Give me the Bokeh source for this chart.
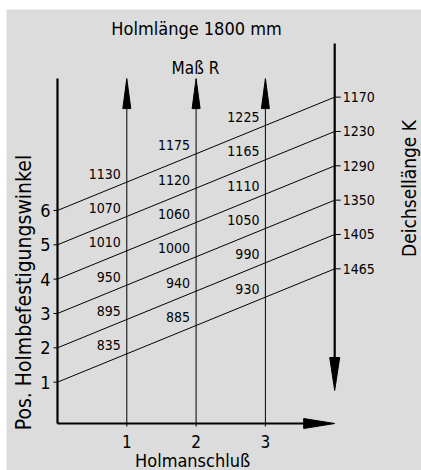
from bokeh.plotting import figure
from bokeh.models import Range1d, ColumnDataSource, Label
from bokeh.core.properties import value
from bokeh.embed import file_html
from bokeh.resources import INLINE
import math

# ---- data ----
positions = [1, 2, 3, 4, 5, 6]                      # Pos. Holmbefestigungswinkel
deichsel_K = [1465, 1405, 1350, 1290, 1230, 1170]   # Deichsellänge K (right scale)
holmanschluss = [1, 2, 3]                           # Holmanschluß
mass_R_1 = [835, 895, 950, 1010, 1070, 1130]        # Maß R at Holmanschluß 1
mass_R_2 = [885, 940, 1000, 1060, 1120, 1175]       # Maß R at Holmanschluß 2
mass_R_3 = [930, 990, 1050, 1110, 1165, 1225]       # Maß R at Holmanschluß 3

# ---- geometry / style ----
W, H = 421, 470
ML, MT = 6, 9               # white border left / top
FW, FH = W - ML, H - MT     # frame size
XS, YS = 69.3, 34.34        # px per unit
X0_PX, Y0_PX = 51, 407      # frame px of origin (from left / top)
RIGHT_X = 4.0               # right scale position
RISE = 3.3                  # rise of each line over the chart
SLOPE = RISE / RIGHT_X
BOTTOM_Y = -0.204
LEFT_TOP = 9.84
RIGHT_TOP = 10.86
FONT = value("'DejaVu Sans Condensed', 'Liberation Sans Narrow', sans-serif")
BG = "#dcdcdc"

p = figure(width=W, height=H, output_backend="svg", toolbar_location=None,
           x_range=Range1d(-X0_PX / XS, (FW - X0_PX) / XS),
           y_range=Range1d(-(FH - Y0_PX) / YS, Y0_PX / YS),
           x_axis_type=None, y_axis_type=None,
           min_border_left=ML, min_border_top=MT, min_border_right=0, min_border_bottom=0)
p.grid.visible = False
p.background_fill_color = BG
p.border_fill_color = "white"
p.outline_line_color = None

px_x = 1.0 / XS
px_y = 1.0 / YS

# slanted lines from left scale to right scale
p.segment(x0=[0] * len(positions), y0=positions,
          x1=[RIGHT_X] * len(positions), y1=[k + RISE for k in positions],
          line_color="black", line_width=1)

# vertical lines (Holmanschluß) with upward arrows
head_len, head_hw = 30 * px_y, 4 * px_x
p.segment(x0=holmanschluss, y0=[BOTTOM_Y] * 3, x1=holmanschluss,
          y1=[LEFT_TOP - head_len] * 3, line_color="black", line_width=1)
p.patches(xs=[[c - head_hw, c, c + head_hw] for c in holmanschluss],
          ys=[[LEFT_TOP - head_len, LEFT_TOP, LEFT_TOP - head_len]] * 3,
          fill_color="black", line_color="black")

# left axis
p.segment(x0=[0], y0=[BOTTOM_Y], x1=[0], y1=[LEFT_TOP], line_color="black", line_width=2.2)
p.segment(x0=[-4 * px_x] * 6, y0=positions, x1=[0] * 6, y1=positions, line_color="black", line_width=1)

# bottom axis with arrow to the right
b_len, b_hw = 31 * px_x, 5 * px_y
p.segment(x0=[0], y0=[BOTTOM_Y], x1=[RIGHT_X - b_len], y1=[BOTTOM_Y], line_color="black", line_width=2.2)
p.patches(xs=[[RIGHT_X - b_len, RIGHT_X, RIGHT_X - b_len]],
          ys=[[BOTTOM_Y - b_hw, BOTTOM_Y, BOTTOM_Y + b_hw]], fill_color="black", line_color="black")
p.segment(x0=holmanschluss, y0=[BOTTOM_Y] * 3, x1=holmanschluss, y1=[BOTTOM_Y - 3 * px_y] * 3,
          line_color="black", line_width=1)

# right axis with arrow downward
r_len, r_hw = 33 * px_y, 5 * px_x
r_tip = 0.757
p.segment(x0=[RIGHT_X], y0=[RIGHT_TOP], x1=[RIGHT_X], y1=[r_tip + r_len], line_color="black", line_width=2.2)
p.patches(xs=[[RIGHT_X - r_hw, RIGHT_X, RIGHT_X + r_hw]],
          ys=[[r_tip + r_len, r_tip, r_tip + r_len]], fill_color="black", line_color="black")
k_y = [k + RISE for k in positions]
p.segment(x0=[RIGHT_X] * 6, y0=k_y, x1=[RIGHT_X + 6 * px_x] * 6, y1=k_y, line_color="black", line_width=1)

# left tick labels
p.text(x=[0] * 6, y=positions, text=[str(k) for k in positions], x_offset=-7,
       text_align="right", text_baseline="middle", text_font=FONT, text_font_size="18px",
       text_color="black")
# right tick labels
p.text(x=[RIGHT_X] * 6, y=k_y, text=[str(v) for v in deichsel_K], x_offset=8,
       text_align="left", text_baseline="middle", text_font=FONT, text_font_size="14px",
       text_color="black")
# bottom tick labels
p.text(x=holmanschluss, y=[BOTTOM_Y] * 3, text=[str(c) for c in holmanschluss], y_offset=18,
       text_align="center", text_baseline="middle", text_font=FONT, text_font_size="17px",
       text_color="black")

# Maß R labels along the lines
for c, vals in zip(holmanschluss, [mass_R_1, mass_R_2, mass_R_3]):
    src = ColumnDataSource(dict(x=[c] * 6, y=[k + SLOPE * c + 0.25 for k in positions],
                                t=[str(v) for v in vals]))
    p.text(x="x", y="y", text="t", source=src, x_offset=-6, text_align="right",
           text_baseline="middle", text_font=FONT, text_font_size="14px", text_color="black")

# titles
def lab(x, y, t, size, angle=0.0):
    p.add_layout(Label(x=x, y=y, text=t, text_align="center", text_baseline="middle",
                       text_font=FONT.value, text_font_size=size, angle=angle, text_color="black"))

lab(2.006, 11.3, "Holmlänge 1800 mm", "18px")
lab(1.99, 10.16, "Maß R", "17px")
lab(1.95, -1.28, "Holmanschluß", "18px")
lab(-0.49, 3.61, "Pos. Holmbefestigungswinkel", "21px", math.pi / 2)
lab(5.065, 6.64, "Deichsellänge K", "19px", math.pi / 2)

open("out.html", "w").write(file_html(p, INLINE))
